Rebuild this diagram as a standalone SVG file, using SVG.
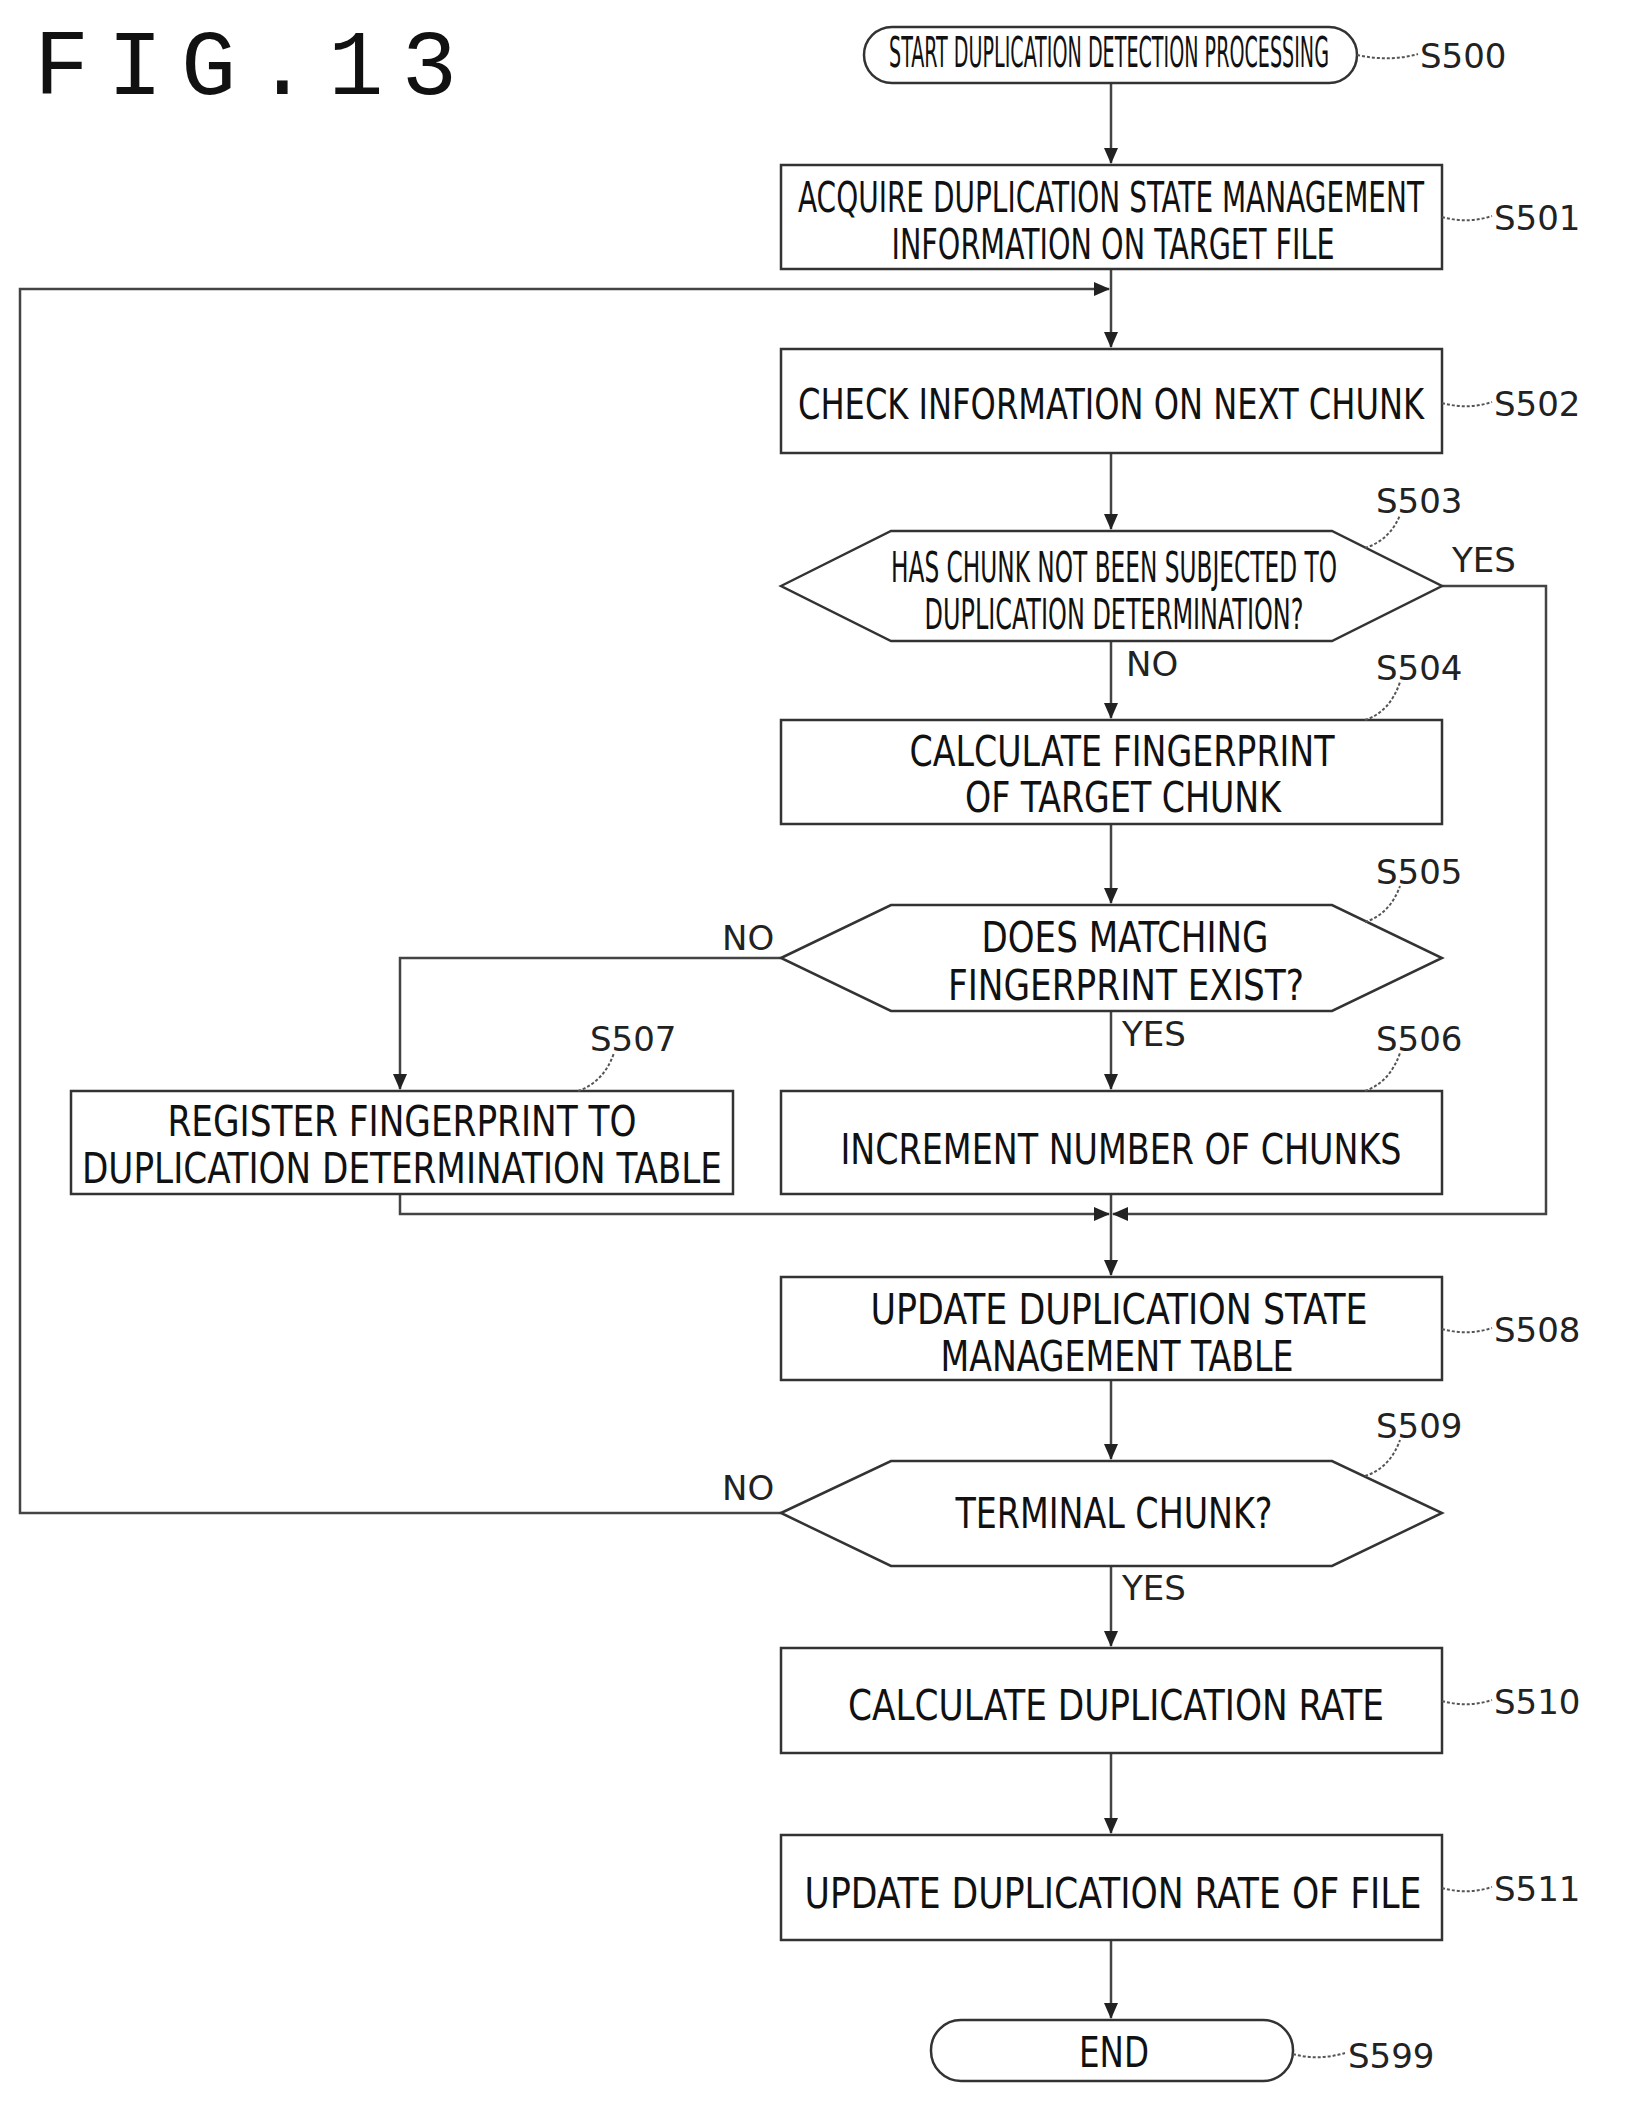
<svg xmlns="http://www.w3.org/2000/svg" width="1626" height="2109" viewBox="0 0 1626 2109">
<style>
.s{fill:#fff;stroke:#333;stroke-width:2.5}
.c{fill:none;stroke:#444;stroke-width:2.5}
.l{fill:none;stroke:#555;stroke-width:2;stroke-dasharray:3 2}
.t{font-family:"DejaVu Sans Condensed","DejaVu Sans",sans-serif;font-size:42px;fill:#111;text-anchor:middle}
.b{font-family:"DejaVu Sans",sans-serif;font-size:34px;fill:#222}
</style>
<defs><marker id="a" markerWidth="16" markerHeight="14" refX="15" refY="7" orient="auto" markerUnits="userSpaceOnUse"><path d="M0,0 L16,7 L0,14 Z" fill="#222"/></marker></defs>
<text x="34" y="94" font-family="Liberation Mono,monospace" font-size="92" textLength="423" lengthAdjust="spacing" fill="#111">FIG.13</text>
<g id="connectors">
<path class="c" d="M1111,83 V163" marker-end="url(#a)"/>
<path class="c" d="M1111,269 V347" marker-end="url(#a)"/>
<path class="c" d="M1111,453 V529" marker-end="url(#a)"/>
<path class="c" d="M1111,641 V718" marker-end="url(#a)"/>
<path class="c" d="M1111,824 V903" marker-end="url(#a)"/>
<path class="c" d="M1111,1011 V1089" marker-end="url(#a)"/>
<path class="c" d="M781,958 H400 V1089" marker-end="url(#a)"/>
<path class="c" d="M1442,586 H1546 V1214 H1113" marker-end="url(#a)"/>
<path class="c" d="M400,1194 V1214 H1109" marker-end="url(#a)"/>
<path class="c" d="M1111,1194 V1275" marker-end="url(#a)"/>
<path class="c" d="M1111,1380 V1459" marker-end="url(#a)"/>
<path class="c" d="M781,1513 H20 V289 H1109" marker-end="url(#a)"/>
<path class="c" d="M1111,1566 V1646" marker-end="url(#a)"/>
<path class="c" d="M1111,1753 V1833" marker-end="url(#a)"/>
<path class="c" d="M1111,1940 V2018" marker-end="url(#a)"/>
<text class="b" x="1452" y="572">YES</text>
<text class="b" x="1126" y="676">NO</text>
<text class="b" x="722" y="950">NO</text>
<text class="b" x="1122" y="1046">YES</text>
<text class="b" x="722" y="1500">NO</text>
<text class="b" x="1122" y="1600">YES</text>
</g>
<g id="S500"><rect class="s" x="864" y="27" width="493" height="56" rx="28"/><text class="t" x="1109" y="67" font-size="34" textLength="440" lengthAdjust="spacingAndGlyphs">START DUPLICATION DETECTION PROCESSING</text><path class="l" d="M1357,55 Q1390,62 1418,54"/><text class="b" x="1420" y="68">S500</text></g>
<g id="S501"><rect class="s" x="781" y="165" width="661" height="104"/><text class="t" x="1111" y="212" textLength="626" lengthAdjust="spacingAndGlyphs">ACQUIRE DUPLICATION STATE MANAGEMENT</text><text class="t" x="1113" y="259" textLength="443" lengthAdjust="spacingAndGlyphs">INFORMATION ON TARGET FILE</text><path class="l" d="M1442,217 Q1468,224 1492,216"/><text class="b" x="1494" y="230">S501</text></g>
<g id="S502"><rect class="s" x="781" y="349" width="661" height="104"/><text class="t" x="1111" y="419" textLength="626" lengthAdjust="spacingAndGlyphs">CHECK INFORMATION ON NEXT CHUNK</text><path class="l" d="M1442,403 Q1468,410 1492,402"/><text class="b" x="1494" y="416">S502</text></g>
<g id="S503"><polygon class="s" points="781,586 891,531 1332,531 1442,586 1332,641 891,641"/><text class="t" x="1114" y="582" font-size="38" textLength="446" lengthAdjust="spacingAndGlyphs">HAS CHUNK NOT BEEN SUBJECTED TO</text><text class="t" x="1114" y="629" font-size="38" textLength="379" lengthAdjust="spacingAndGlyphs">DUPLICATION DETERMINATION?</text><path class="l" d="M1365,548 Q1390,540 1400,515"/><text class="b" x="1376" y="513">S503</text></g>
<g id="S504"><rect class="s" x="781" y="720" width="661" height="104"/><text class="t" x="1122" y="766" textLength="425" lengthAdjust="spacingAndGlyphs">CALCULATE FINGERPRINT</text><text class="t" x="1123" y="812" textLength="316" lengthAdjust="spacingAndGlyphs">OF TARGET CHUNK</text><path class="l" d="M1365,720 Q1390,712 1400,682"/><text class="b" x="1376" y="680">S504</text></g>
<g id="S505"><polygon class="s" points="781,958 891,905 1332,905 1442,958 1332,1011 891,1011"/><text class="t" x="1125" y="952" textLength="287" lengthAdjust="spacingAndGlyphs">DOES MATCHING</text><text class="t" x="1126" y="1000" textLength="356" lengthAdjust="spacingAndGlyphs">FINGERPRINT EXIST?</text><path class="l" d="M1365,922 Q1390,914 1400,886"/><text class="b" x="1376" y="884">S505</text></g>
<g id="S506"><rect class="s" x="781" y="1091" width="661" height="103"/><text class="t" x="1121" y="1164" textLength="561" lengthAdjust="spacingAndGlyphs">INCREMENT NUMBER OF CHUNKS</text><path class="l" d="M1365,1091 Q1390,1082 1400,1053"/><text class="b" x="1376" y="1051">S506</text></g>
<g id="S507"><rect class="s" x="71" y="1091" width="662" height="103"/><text class="t" x="402" y="1136" textLength="469" lengthAdjust="spacingAndGlyphs">REGISTER FINGERPRINT TO</text><text class="t" x="402" y="1183" textLength="640" lengthAdjust="spacingAndGlyphs">DUPLICATION DETERMINATION TABLE</text><path class="l" d="M578,1091 Q604,1082 614,1053"/><text class="b" x="590" y="1051">S507</text></g>
<g id="S508"><rect class="s" x="781" y="1277" width="661" height="103"/><text class="t" x="1119" y="1324" textLength="497" lengthAdjust="spacingAndGlyphs">UPDATE DUPLICATION STATE</text><text class="t" x="1117" y="1371" textLength="353" lengthAdjust="spacingAndGlyphs">MANAGEMENT TABLE</text><path class="l" d="M1442,1329 Q1468,1336 1492,1328"/><text class="b" x="1494" y="1342">S508</text></g>
<g id="S509"><polygon class="s" points="781,1513 891,1461 1332,1461 1442,1513 1332,1566 891,1566"/><text class="t" x="1114" y="1528" textLength="317" lengthAdjust="spacingAndGlyphs">TERMINAL CHUNK?</text><path class="l" d="M1365,1476 Q1390,1468 1400,1440"/><text class="b" x="1376" y="1438">S509</text></g>
<g id="S510"><rect class="s" x="781" y="1648" width="661" height="105"/><text class="t" x="1116" y="1720" textLength="536" lengthAdjust="spacingAndGlyphs">CALCULATE DUPLICATION RATE</text><path class="l" d="M1442,1701 Q1468,1708 1492,1700"/><text class="b" x="1494" y="1714">S510</text></g>
<g id="S511"><rect class="s" x="781" y="1835" width="661" height="105"/><text class="t" x="1113" y="1908" textLength="617" lengthAdjust="spacingAndGlyphs">UPDATE DUPLICATION RATE OF FILE</text><path class="l" d="M1442,1888 Q1468,1895 1492,1887"/><text class="b" x="1494" y="1901">S511</text></g>
<g id="S599"><rect class="s" x="931" y="2020" width="362" height="61" rx="30"/><text class="t" x="1114" y="2067" textLength="70" lengthAdjust="spacingAndGlyphs">END</text><path class="l" d="M1293,2054 Q1318,2061 1345,2053"/><text class="b" x="1348" y="2068">S599</text></g>
</svg>
